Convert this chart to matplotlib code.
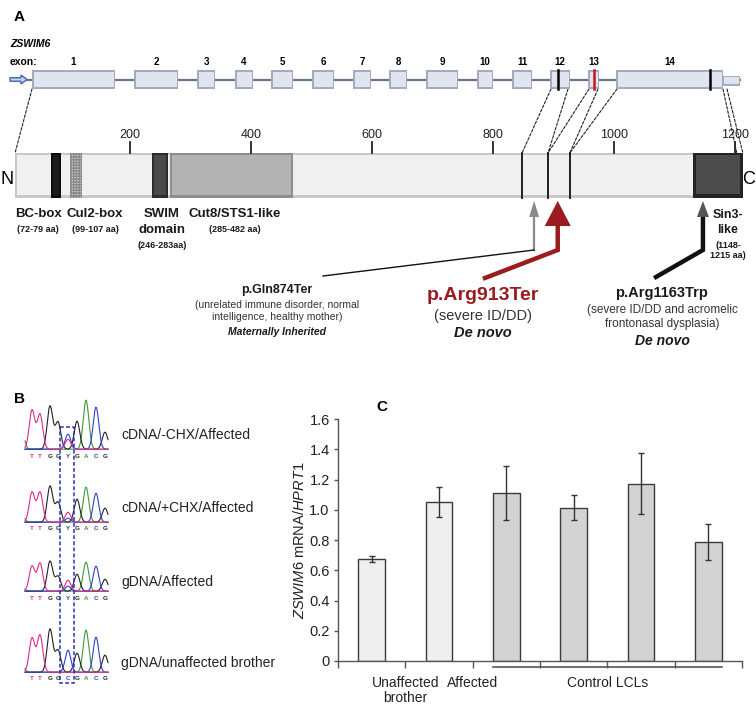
import numpy as np
import matplotlib.pyplot as plt
from matplotlib.patches import Rectangle, Polygon, FancyArrow, ConnectionPatch

plt.rcParams['font.family'] = ['Liberation Sans', 'DejaVu Sans']
plt.rcParams['mathtext.fontset'] = 'custom'
plt.rcParams['mathtext.rm'] = 'Liberation Sans'
plt.rcParams['mathtext.it'] = 'Liberation Sans:italic'

# ---- panel A, gene model (schematic units) ----
exon_names = [str(i) for i in range(1, 15)]
exon_spans = [(32, 115), (134, 178), (197, 215), (235, 253), (271, 293),
              (312, 334), (353, 371), (389, 407), (426, 458), (477, 493),
              (512, 532), (550, 570), (588, 599), (616, 723)]
utr_span = (723, 740)
gene_marks = [558, 594, 710]

# ---- panel A, protein (aa) ----
protein_span = (10, 1213)
aa_ticks = [200, 400, 600, 800, 1000, 1200]
domain_names = ['BC-box', 'Cul2-box', 'SWIM\ndomain', 'Cut8/STS1-like']
domain_ranges = ['(72-79 aa)', '(99-107 aa)', '(246-283aa)', '(285-482 aa)']
domain_spans = [(69, 86), (101, 121), (236, 263), (266, 469)]
sin3_span = (1131, 1213)
boundary_aa = [848, 891, 927]
# (gene x, protein aa) pairs for the dashed zoom lines
zoom_links = [(32, 10), (551, 848), (568, 891), (589, 891), (598, 927),
              (617, 927), (723, 1203), (727, 1213)]

mut_names = ['p.Gln874Ter', 'p.Arg913Ter', 'p.Arg1163Trp']
mut_aa = [868, 907, 1147]
mut_notes = ['(unrelated immune disorder, normal\nintelligence, healthy mother)',
             '(severe ID/DD)',
             '(severe ID/DD and acromelic\nfrontonasal dysplasia)']
mut_origin = ['Maternally Inherited', 'De novo', 'De novo']

# ---- panel B, chromatograms ----
trace_labels = ['cDNA/-CHX/Affected', 'cDNA/+CHX/Affected',
                'gDNA/Affected', 'gDNA/unaffected brother']
trace_seqs = ['TTGGYGACG', 'TTGGYGACG', 'TTGGYGACG', 'TTGGCGACG']
peak_pos = [32, 40, 50, 58, 68, 77, 86, 96, 105]
peak_h = [[39, 35, 43, 27, 0, 28, 49, 42, 17],
          [30, 30, 36, 20, 0, 23, 35, 29, 14],
          [25, 28, 30, 15, 0, 17, 29, 25, 12],
          [34, 37, 43, 22, 22, 19, 42, 35, 17]]
het_T = [10, 10, 11, 0]
het_C = [15, 4, 5, 0]
lead_A = [23, 10, 6, 10]

# ---- panel C ----
bar_vals = [0.674, 1.053, 1.111, 1.014, 1.172, 0.787]
bar_err = [0.02, 0.10, 0.18, 0.085, 0.20, 0.12]
bar_kind = ['case', 'case', 'ctrl', 'ctrl', 'ctrl', 'ctrl']
yticks_c = [0, 0.2, 0.4, 0.6, 0.8, 1.0, 1.2, 1.4, 1.6]

RED = '#9b1b1e'
W, H = 756, 706

fig = plt.figure(figsize=(W / 100, H / 100), dpi=100)
cv = fig.add_axes([0, 0, 1, 1])
cv.set_xlim(0, W)
cv.set_ylim(H, 0)
cv.axis('off')

# protein axes in aa units, sharing the pixel rows of the canvas
px0, k = 9.0, 0.605
pr = fig.add_axes([0, 0, 1, 1])
pr.set_xlim((0 - px0) / k, (W - px0) / k)
pr.set_ylim(H, 0)
pr.axis('off')
pr.patch.set_alpha(0)
apx = 1 / k  # one pixel in aa units


def bevel(ax, x0, x1, y0, y1, outer, inner, dx, dy=2.5, z=3):
    ax.add_patch(Rectangle((x0, y0), x1 - x0, y1 - y0, fc=outer, ec='none', zorder=z))
    ax.add_patch(Rectangle((x0 + dx, y0 + dy * 0.6), x1 - x0 - 2 * dx, y1 - y0 - 1.6 * dy,
                           fc=inner, ec='none', zorder=z + 0.1))


# panel letters
cv.text(14, 17, 'A', fontsize=11, fontweight='bold', ha='left', va='center')
cv.text(14, 399, 'B', fontsize=11, fontweight='bold', ha='left', va='center')
cv.text(376, 407, 'C', fontsize=11, fontweight='bold', ha='left', va='center')

# gene track
cv.text(10, 44, 'ZSWIM6', fontsize=7.5, fontweight='bold', style='italic', va='center')
cv.text(10, 62, 'exon:', fontsize=7.5, fontweight='bold', va='center')
gy0, gy1 = 70, 89
cv.plot([28, utr_span[1]], [79.5, 79.5], color='#6c7488', lw=1.6, zorder=2)
cv.add_patch(FancyArrow(10, 79.5, 17, 0, width=3.5, head_width=9, head_length=6,
                        length_includes_head=True, fc='#c9d5ef', ec='#3f64b0', lw=1, zorder=3))
for name, (a, b) in zip(exon_names, exon_spans):
    bevel(cv, a, b, gy0, gy1, '#a4abbd', '#dfe4f0', 1.5)
    cv.text((a + b) / 2, 62, name, fontsize=7, fontweight='bold', ha='center', va='center')
bevel(cv, utr_span[0], utr_span[1], 76, 86, '#a4abbd', '#dfe4f0', 1.2, 1.5)
for x, c in zip(gene_marks, ['black', '#c4161c', 'black']):
    cv.plot([x, x], [gy0, gy1], color=c, lw=1.8, zorder=5)

# protein bar
py0, py1 = 153, 198
bevel(pr, protein_span[0], protein_span[1], py0, py1, '#c9c8c8', '#f1f0f0', 2 * apx, 3)
fills = [('#0d0d0d', '#1c1c1c'), ('#bdbdbd', '#d6d6d6'), ('#2b2b2b', '#4a4a4a'), ('#8e8e8e', '#b3b3b3')]
for (a, b), (o, i) in zip(domain_spans, fills):
    bevel(pr, a, b, py0, py1, o, i, 2 * apx, 3, z=4)
a, b = domain_spans[1]
pr.add_patch(Rectangle((a, py0), b - a, py1 - py0, fc='none', ec='#8a8a8a', lw=0,
                       hatch='++++++', zorder=4.5))
bevel(pr, sin3_span[0], sin3_span[1], py0, py1, '#232323', '#4c4c4c', 3 * apx, 4, z=4)
for x in boundary_aa:
    pr.plot([x, x], [py0, py1], color='#111', lw=1.3, zorder=6)
for t in aa_ticks:
    pr.plot([t, t], [142, py0], color='#222', lw=1.3, zorder=6)
    pr.text(t, 135, str(t), fontsize=9, ha='center', va='center', color='#222')
cv.text(7, 180, 'N', fontsize=13, ha='center', va='center')
cv.text(749, 180, 'C', fontsize=13, ha='center', va='center')

for gx, aa in zoom_links:
    cv.add_artist(ConnectionPatch(xyA=(gx, gy1), coordsA=cv.transData,
                                  xyB=(aa, py0), coordsB=pr.transData,
                                  color='#222', lw=0.8, ls=(0, (2.5, 1.5)), zorder=1))

# domain labels
for (a, b), name, rng, cx in zip(domain_spans, domain_names, domain_ranges, [38, 95, 162, 235]):
    lines = name.split('\n')
    for j, ln in enumerate(lines):
        cv.text(cx, 214 + 16 * j, ln, fontsize=9.5, fontweight='bold', ha='center',
                va='center', color='#1a1a1a')
    cv.text(cx, 230 + 15 * (len(lines) - 1), rng, fontsize=6.5, fontweight='bold',
            ha='center', va='center', color='#1a1a1a')
for j, ln in enumerate(['Sin3-', 'like']):
    cv.text(728, 215 + 15 * j, ln, fontsize=9, fontweight='bold', ha='center', va='center', color='#1a1a1a')
for j, ln in enumerate(['(1148-', '1215 aa)']):
    cv.text(728, 245 + 11 * j, ln, fontsize=6.5, fontweight='bold', ha='center', va='center', color='#1a1a1a')

# mutation arrows (shaft bend at y 250, end at label)
ends_px = [(323, 276), (485, 278), (656, 277)]
head = [(5, 16, '#8a8a8a'), (13, 25, RED), (6, 16, '#555555')]
for aa, (ex, ey), (hw, hl, hc), i in zip(mut_aa, ends_px, head, range(3)):
    tip = 201
    pr.add_patch(Polygon([(aa, tip), (aa - hw * apx, tip + hl), (aa + hw * apx, tip + hl)],
                         closed=True, fc=hc, ec='none', zorder=6))
    eaa = (ex - px0) / k
    if i == 0:
        pr.plot([aa, aa], [tip + hl, 250], color='#8a8a8a', lw=1.6, zorder=5)
        pr.plot([aa, eaa], [250, ey], color='#111', lw=1.0, zorder=5)
    else:
        c = RED if i == 1 else '#111'
        pr.plot([aa, aa, eaa], [tip + hl - 1, 250, ey], color=c, lw=3.2,
                solid_joinstyle='miter', zorder=5)

cv.text(277, 290, mut_names[0], fontsize=9, fontweight='bold', ha='center', va='center', color='#1a1a1a')
cv.text(277, 311.5, mut_notes[0], fontsize=7.5, ha='center', va='center', color='#333',
        linespacing=1.25)
cv.text(277, 332, mut_origin[0], fontsize=7.5, fontweight='bold', style='italic',
        ha='center', va='center', color='#1a1a1a')

cv.text(483, 295, mut_names[1], fontsize=14, fontweight='bold', ha='center', va='center', color=RED)
cv.text(483, 316, mut_notes[1], fontsize=10.5, ha='center', va='center', color='#333')
cv.text(483, 333, mut_origin[1], fontsize=10.5, fontweight='bold', style='italic',
        ha='center', va='center', color='#1a1a1a')

cv.text(662, 293, mut_names[2], fontsize=10.5, fontweight='bold', ha='center', va='center', color='#1a1a1a')
cv.text(662, 317, mut_notes[2], fontsize=8.5, ha='center', va='center', color='#333',
        linespacing=1.25)
cv.text(662, 341, mut_origin[2], fontsize=10, fontweight='bold', style='italic',
        ha='center', va='center', color='#1a1a1a')

# ---- panel B ----
base_col = {'T': '#e0298c', 'G': '#222222', 'A': '#3d9a3d', 'C': '#2f3fd0', 'Y': '#333399'}
baselines = [450, 523, 592, 673]
xs = np.linspace(25, 108, 500)
sig = 2.8
for ti in range(4):
    y0 = baselines[ti]
    chans = {c: np.zeros_like(xs) for c in 'TGAC'}
    for p, b, h in zip(peak_pos, trace_seqs[ti], peak_h[ti]):
        if b in chans:
            chans[b] += h * np.exp(-0.5 * ((xs - p) / sig) ** 2)
    yp = peak_pos[4]
    chans['T'] += het_T[ti] * np.exp(-0.5 * ((xs - yp) / sig) ** 2)
    chans['C'] += het_C[ti] * np.exp(-0.5 * ((xs - yp) / sig) ** 2)
    chans['A'] += lead_A[ti] * np.exp(-0.5 * ((xs - 21) / sig) ** 2)
    for c in 'AGCT':
        cv.plot(xs, y0 - chans[c] - 0.8, color=base_col[c], lw=0.8, zorder=3)
    for p, b in zip(peak_pos, trace_seqs[ti]):
        cv.text(p, y0 + 6, b, fontsize=4.5, fontweight='bold', ha='center', va='center',
                color=base_col[b])
    cv.text(121, [435, 508, 582, 663][ti], trace_labels[ti], fontsize=10, ha='left',
            va='center', color='#222')
cv.add_patch(Rectangle((60, 427), 14, 256, fc='none', ec='#2233bb', lw=1.1,
                       ls=(0, (2.5, 1.5)), zorder=4))

# ---- panel C ----
ax = fig.add_axes([338 / W, 1 - 661 / H, 404 / W, 242 / H])
pos = np.arange(len(bar_vals))
cols = ['#efefef' if kd == 'case' else '#d3d3d3' for kd in bar_kind]
ax.bar(pos, bar_vals, width=0.4, color=cols, edgecolor='#3a3a3a', lw=1, zorder=2)
ax.errorbar(pos, bar_vals, yerr=bar_err, fmt='none', ecolor='#333', elinewidth=1,
            capsize=2.5, capthick=1, zorder=3)
ax.set_xlim(-0.5, 5.5)
ax.set_ylim(0, 1.6)
ax.set_yticks(yticks_c)
ax.set_yticklabels(['0'] + [f'{v:.1f}' for v in yticks_c[1:]], fontsize=10.5, color='#222')
ax.set_xticks(np.arange(-0.5, 6, 1))
ax.set_xticklabels([])
ax.tick_params(axis='x', direction='out', length=5, width=1, color='#555')
ax.tick_params(axis='y', direction='out', length=3, width=1, color='#555', pad=3)
for s in ['top', 'right']:
    ax.spines[s].set_visible(False)
for s in ['left', 'bottom']:
    ax.spines[s].set_color('#555')
    ax.spines[s].set_linewidth(1)
ax.set_ylabel(r'$\it{ZSWIM6}$ mRNA/$\it{HPRT1}$', fontsize=10.5, color='#222', labelpad=2)
tr = ax.get_xaxis_transform()
ly = -(676 - 661) / 242
ax.text(0.5, ly, 'Unaffected\nbrother', transform=tr, fontsize=10, ha='center', va='top',
        color='#222', linespacing=1.05)
ax.text(1.5, ly, 'Affected', transform=tr, fontsize=10, ha='center', va='top', color='#222')
ax.text(3.5, ly, 'Control LCLs', transform=tr, fontsize=10, ha='center', va='top', color='#222')
ax.plot([1.8, 5.2], [-0.025, -0.025], transform=tr, color='#555', lw=1.2, clip_on=False)

fig.savefig('out.png', dpi=100)
